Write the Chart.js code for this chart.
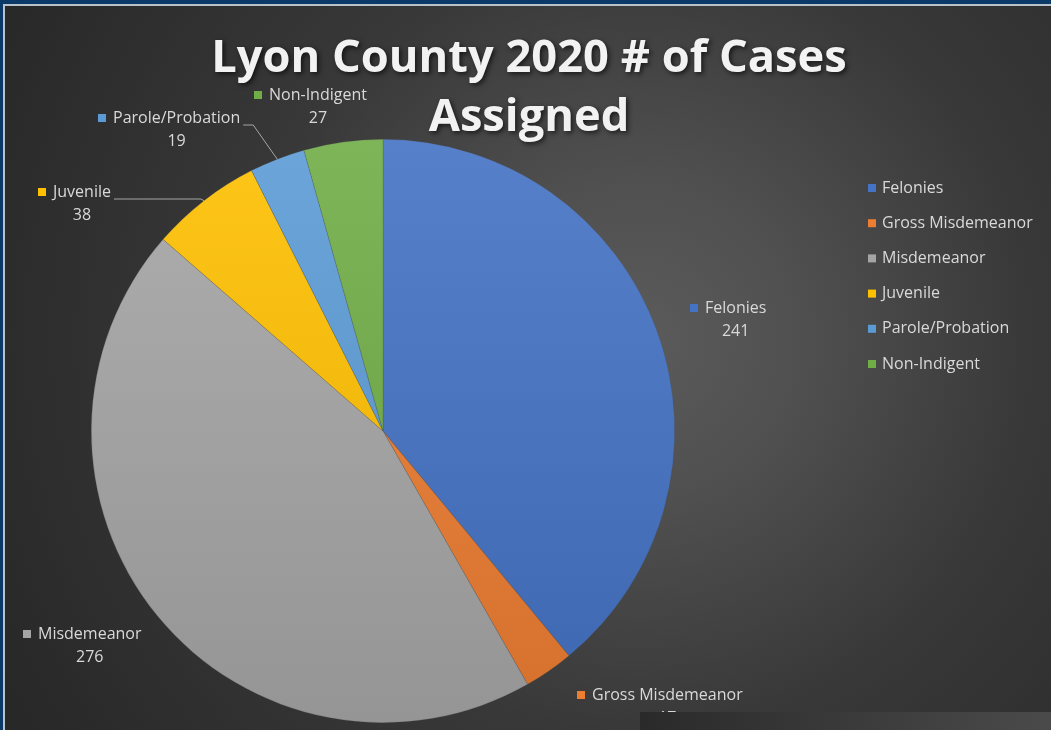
<!DOCTYPE html>
<html><head><meta charset="utf-8">
<script src="https://cdn.jsdelivr.net/npm/chart.js@4/dist/chart.umd.min.js"></script>
<style>
html,body{margin:0;padding:0;background:#0b3a68;overflow:hidden}
#wrap{position:absolute;left:0;top:0;width:1051px;height:730px}
canvas{display:block}
</style></head><body>
<div id="wrap"><canvas id="c" width="1051" height="730"></canvas></div>
<script>
// ---- data ----
const categories = ['Felonies','Gross Misdemeanor','Misdemeanor','Juvenile','Parole/Probation','Non-Indigent'];
const caseCounts = [241, 17, 276, 38, 19, 27];
const sliceColors = ['#4472C4','#ED7D31','#A5A5A5','#FFC000','#5B9BD5','#70AD47'];
const titleLines = ['Lyon County 2020 # of Cases', 'Assigned'];

// ---- layout (text placement only) ----
const labelLayout = [
  {textX:705, y:308},                 // Felonies
  {textX:592, y:695},                 // Gross Misdemeanor
  {textX:38,  y:634},                 // Misdemeanor
  {textX:53,  y:192, leader:'long'},  // Juvenile
  {textX:113, y:118, leader:'short'}, // Parole/Probation
  {textX:269, y:95}                   // Non-Indigent
];
const FONT = '"Open Sans", "Noto Sans", sans-serif';
const TEXT = '#d9d9d9';

function mix(hex, target, t){
  const n = parseInt(hex.slice(1),16);
  let r=(n>>16)&255,g=(n>>8)&255,b=n&255;
  r=Math.round(r+(target-r)*t); g=Math.round(g+(target-g)*t); b=Math.round(b+(target-b)*t);
  return `rgb(${r},${g},${b})`;
}

function fitFont(ctx, text, target, weight, lo, hi){
  let best=lo;
  for(let s=lo;s<=hi;s+=0.25){
    ctx.font = `${weight} ${s}px ${FONT}`;
    if(ctx.measureText(text).width<=target) best=s;
  }
  return best;
}

const bgPlugin = {
  id:'bg',
  beforeDraw(chart){
    const ctx=chart.ctx, W=chart.width, H=chart.height;
    ctx.save();
    ctx.fillStyle='#0b3a68'; ctx.fillRect(0,0,W,H);
    ctx.fillStyle='#b9c1c9'; ctx.fillRect(3,4,W-3,H-4);
    const g=ctx.createRadialGradient(640,340,0,640,340,720);
    g.addColorStop(0,'#5b5b5b');
    g.addColorStop(0.22,'#505050');
    g.addColorStop(0.55,'#383838');
    g.addColorStop(1,'#282828');
    ctx.fillStyle=g; ctx.fillRect(5,6,W-5,H-6);
    ctx.restore();
  }
};

const decoPlugin = {
  id:'deco',
  afterDraw(chart){
    const ctx=chart.ctx;
    const meta=chart.getDatasetMeta(0);
    ctx.save();
    // title
    const ts = fitFont(ctx, titleLines[0], 638, 700, 36, 54);
    ctx.font = `700 ${ts}px ${FONT}`;
    ctx.textAlign='center'; ctx.textBaseline='alphabetic';
    ctx.shadowColor='rgba(0,0,0,0.65)'; ctx.shadowBlur=5; ctx.shadowOffsetX=2; ctx.shadowOffsetY=2;
    ctx.fillStyle='#f2f2f2';
    ctx.fillText(titleLines[0], 529, 72);
    ctx.fillText(titleLines[1], 529, 131);
    ctx.shadowColor='transparent'; ctx.shadowBlur=0; ctx.shadowOffsetX=0; ctx.shadowOffsetY=0;

    // data labels
    const ls = fitFont(ctx, 'Gross Misdemeanor', 153, 400, 11, 18);
    ctx.font = `400 ${ls}px ${FONT}`;
    ctx.textBaseline='middle';
    categories.forEach((name,i)=>{
      const L=labelLayout[i];
      const w=ctx.measureText(name).width;
      const right=L.textX+w;
      // leader line
      if(L.leader){
        const arc=meta.data[i];
        const mid=(arc.startAngle+arc.endAngle)/2;
        const ax=arc.x+arc.outerRadius*Math.cos(mid);
        const ay=arc.y+arc.outerRadius*Math.sin(mid);
        const sy=L.y+7;
        const ex = L.leader==='short' ? right+13 : ax-3;
        ctx.strokeStyle='#a6a6a6'; ctx.lineWidth=1;
        ctx.beginPath();
        ctx.moveTo(right+3, sy); ctx.lineTo(ex, sy); ctx.lineTo(ax, ay);
        ctx.stroke();
      }
      ctx.fillStyle=sliceColors[i];
      ctx.fillRect(L.textX-15, L.y-4, 8, 8);
      ctx.fillStyle=TEXT;
      ctx.textAlign='left';
      ctx.fillText(name, L.textX, L.y);
      ctx.textAlign='center';
      ctx.fillText(String(caseCounts[i]), L.textX+w/2, L.y+23);
    });

    // legend
    ctx.textAlign='left';
    categories.forEach((name,i)=>{
      const y=188+i*35.2;
      ctx.fillStyle=sliceColors[i];
      ctx.fillRect(868, y-4, 8, 8);
      ctx.fillStyle=TEXT;
      ctx.fillText(name, 882, y);
    });

    // overlapping grey panel at bottom right
    const pg=ctx.createLinearGradient(640,0,1051,0);
    pg.addColorStop(0,'#2a2a2a'); pg.addColorStop(1,'#4a4a4a');
    ctx.fillStyle=pg;
    ctx.fillRect(640,712,411,18);
    ctx.restore();
  }
};

new Chart(document.getElementById('c'), {
  type:'pie',
  data:{
    labels:categories,
    datasets:[{
      data:caseCounts,
      backgroundColor:(c)=>{
        const base=sliceColors[c.dataIndex];
        const ca=c.chart.chartArea;
        if(!ca) return base;
        const g=c.chart.ctx.createLinearGradient(0,ca.top,0,ca.bottom);
        g.addColorStop(0,mix(base,255,0.1));
        g.addColorStop(1,mix(base,0,0.1));
        return g;
      },
      borderColor:'rgba(70,70,70,0.35)',
      borderWidth:0.6
    }]
  },
  options:{
    responsive:false,
    devicePixelRatio:1,
    animation:false,
    layout:{padding:{left:91,right:376,top:139,bottom:7}},
    plugins:{legend:{display:false},title:{display:false},tooltip:{enabled:false}}
  },
  plugins:[bgPlugin, decoPlugin]
});
</script>
</body></html>
